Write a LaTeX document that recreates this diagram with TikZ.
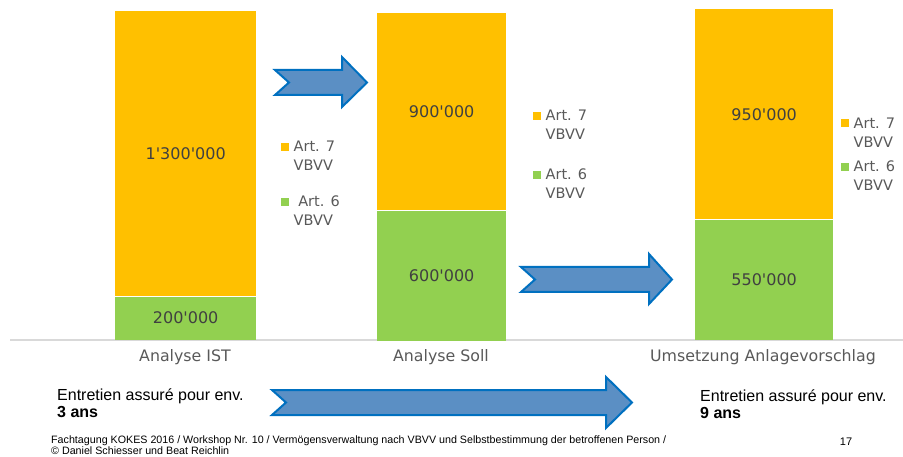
\documentclass[tikz,border=0pt]{standalone}
\usepackage{fontspec}
\setmainfont{Liberation Sans}
\newfontfamily\chartfont{DejaVu Sans}
\usetikzlibrary{positioning}
\definecolor{artgold}{HTML}{FFC000}
\definecolor{artgreen}{HTML}{92D050}
\definecolor{arrowfill}{HTML}{5B8FC4}
\definecolor{arrowline}{HTML}{0070C0}
\definecolor{valuegrey}{HTML}{404040}
\definecolor{axisgrey}{HTML}{595959}
\definecolor{gridgrey}{HTML}{D9D9D9}
\newcommand{\tq}{\textquotesingle}

\begin{document}
\begin{tikzpicture}[
		x=1pt, y=-1pt,
		bar/.style={
				rectangle,
				inner sep=0pt,
				text=valuegrey,
				font=\chartfont\fontsize{16}{19}\selectfont
			},
		key/.style={
				rectangle,
				inner sep=0pt,
				minimum size=8.5pt
			},
		keytext/.style={
				anchor=west,
				align=left,
				inner sep=0pt,
				text=axisgrey,
				font=\chartfont\fontsize{14.5}{19}\selectfont
			},
		category/.style={
				text=axisgrey,
				font=\chartfont\fontsize{15.8}{18}\selectfont
			},
		note/.style={
				anchor=west,
				align=left,
				inner sep=0pt,
				font=\fontsize{16}{17}\selectfont
			},
		bigarrow/.style={
				fill=arrowfill,
				draw=arrowline,
				line width=2pt,
				line join=miter
			}
	]
	\useasboundingbox (0,0) rectangle (903,457);

	% Axis line
	\draw[gridgrey, line width=1.2pt] (10,340) -- (903,340);

	% Bars
	\node[bar, fill=artgold, minimum width=141pt, minimum height=285pt, anchor=north west] (ist7) at (115,11) {1\tq 300\tq 000};
	\node[bar, fill=artgreen, minimum width=141pt, minimum height=43pt, below=0pt of ist7] (ist6) {200\tq 000};
	\node[bar, fill=artgold, minimum width=129pt, minimum height=197pt, anchor=north west] (soll7) at (377,13) {900\tq 000};
	\node[bar, fill=artgreen, minimum width=129pt, minimum height=130pt, below=0pt of soll7] (soll6) {600\tq 000};
	\node[bar, fill=artgold, minimum width=138pt, minimum height=210pt, anchor=north west] (plan7) at (695,9) {950\tq 000};
	\node[bar, fill=artgreen, minimum width=138pt, minimum height=120pt, below=0pt of plan7] (plan6) {550\tq 000};

	% Categories
	\node[category] (istlabel) at (185,357) {Analyse IST};
	\node[category] (solllabel) at (441,357) {Analyse Soll};
	\node[category] (planlabel) at (763,357) {Umsetzung Anlagevorschlag};

	% Legends
	\node[key, fill=artgold] (istkey7) at (285,147) {};
	\node[keytext, right=4pt of istkey7.east, yshift=-9pt] (istkeytext7) {Art. 7\\VBVV};
	\node[key, fill=artgreen] (istkey6) at (285,202) {};
	\node[keytext, right=4pt of istkey6.east, yshift=-9pt] (istkeytext6) {\ Art. 6\\VBVV};
	\node[key, fill=artgold] (sollkey7) at (537,116) {};
	\node[keytext, right=4pt of sollkey7.east, yshift=-9pt] (sollkeytext7) {Art. 7\\VBVV};
	\node[key, fill=artgreen] (sollkey6) at (537,175) {};
	\node[keytext, right=4pt of sollkey6.east, yshift=-9pt] (sollkeytext6) {Art. 6\\VBVV};
	\node[key, fill=artgold] (plankey7) at (845,123) {};
	\node[keytext, right=4pt of plankey7.east, yshift=-10pt] (plankeytext7) {Art. 7\\VBVV};
	\node[key, fill=artgreen] (plankey6) at (845,167) {};
	\node[keytext, right=4pt of plankey6.east, yshift=-9pt] (plankeytext6) {Art. 6\\VBVV};

	% Arrows
	\draw[bigarrow] (275,70) -- (342,70) -- (342,57) -- (367,82.5) -- (342,107) -- (342,95) -- (275,95) -- (289,82.5) -- cycle;
	\draw[bigarrow] (521,267) -- (649,267) -- (649,254) -- (672,279.5) -- (649,304) -- (649,292) -- (521,292) -- (535,279.5) -- cycle;
	\draw[bigarrow] (272,390) -- (606,390) -- (606,377) -- (632,402.5) -- (606,428) -- (606,415) -- (272,415) -- (286,402.5) -- cycle;

	% Notes
	\node[note] (istnote) at (57,403) {Entretien assuré pour env.\\\textbf{3 ans}};
	\node[note] (plannote) at (700,404) {Entretien assuré pour env.\\\textbf{9 ans}};

	% Footer
	\node[anchor=west, align=left, inner sep=0pt, font=\fontsize{10.7}{11}\selectfont] (footer) at (51,445.5) {Fachtagung KOKES 2016 / Workshop Nr. 10 / Vermögensverwaltung nach VBVV und Selbstbestimmung der betroffenen Person /\\© Daniel Schiesser und Beat Reichlin};
	\node[font=\fontsize{11}{13}\selectfont] (pageno) at (846,442) {17};
\end{tikzpicture}
\end{document}
